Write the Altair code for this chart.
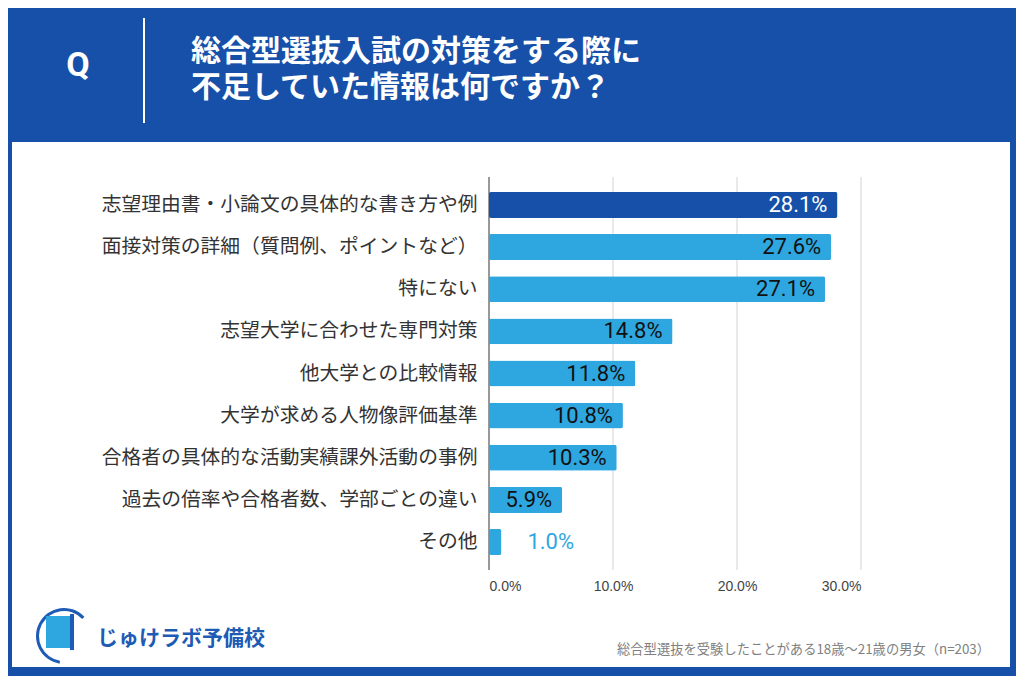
import altair as alt
import pandas as pd

# ---- data ----
categories = [
    "志望理由書・小論文の具体的な書き方や例",
    "面接対策の詳細（質問例、ポイントなど）",
    "特にない",
    "志望大学に合わせた専門対策",
    "他大学との比較情報",
    "大学が求める人物像評価基準",
    "合格者の具体的な活動実績課外活動の事例",
    "過去の倍率や合格者数、学部ごとの違い",
    "その他",
]
values = [28.1, 27.6, 27.1, 14.8, 11.8, 10.8, 10.3, 5.9, 1.0]
tick_values = [0, 10, 20, 30]

title_lines = ["総合型選抜入試の対策をする際に", "不足していた情報は何ですか？"]
q_label = "Q"
logo_text = "じゅけラボ予備校"
footnote = "総合型選抜を受験したことがある18歳～21歳の男女（n=203）"

BLUE = "#1650A8"
LIGHT = "#2EA7E0"
JP = "Noto Sans CJK JP"

df = pd.DataFrame({"category": categories, "value": values})
grid_df = pd.DataFrame({"g": tick_values})

W, H = 1008, 668

xscale = alt.Scale(domain=[0, 30], range=[481, 853])
xaxis = alt.Axis(
    orient="bottom", offset=-106, values=tick_values, domain=False, ticks=False,
    grid=False, labelPadding=9, labelFontSize=14, labelColor="#444",
    labelFont="Liberation Sans", labelFontWeight="normal",
    labelExpr="format(datum.value, '.1f') + '%'", title=None, zindex=2,
)
yscale = alt.Scale(domain=categories, range=[169, 562], paddingInner=0.383, paddingOuter=0.356)
yaxis = alt.Axis(
    orient="left", offset=-481, domain=False, ticks=False, grid=False,
    labelPadding=12, labelFontSize=19.8, labelColor="#333", labelFont=JP,
    labelLimit=0, title=None, zindex=2,
)


def X(field):
    return alt.X(f"{field}:Q", scale=xscale, axis=xaxis)


def Y():
    return alt.Y("category:N", sort=categories, scale=yscale, axis=yaxis)


one = pd.DataFrame({"k": [0]})

panel = alt.Chart(one).mark_rect(color="white").encode(
    x=alt.value(4), x2=alt.value(1002), y=alt.value(134), y2=alt.value(659)
)
divider = alt.Chart(one).mark_rule(color="white", strokeWidth=2).encode(
    x=alt.value(136), y=alt.value(10), y2=alt.value(115)
)
q_text = alt.Chart(pd.DataFrame({"t": [q_label]})).mark_text(
    font="Roboto", fontSize=34, fontWeight="bold", color="white", align="center", baseline="middle"
).encode(text="t:N", x=alt.value(70), y=alt.value(58))
title = alt.Chart(one).mark_text(
    font=JP, fontSize=30, fontWeight="bold", color="white", align="left",
    baseline="middle", lineHeight=36,
).encode(text=alt.value(title_lines), x=alt.value(183), y=alt.value(44))

grid = alt.Chart(grid_df).mark_rule(strokeWidth=1).encode(
    x=X("g"), y=alt.value(169), y2=alt.value(562),
    color=alt.condition("datum.g == 0", alt.value("#333333"), alt.value("#d4d4d4")),
)

bars = alt.Chart(df).mark_bar(cornerRadius=2).encode(
    x=X("value"), y=Y(),
    color=alt.condition(f"datum.category == '{categories[0]}'", alt.value(BLUE), alt.value(LIGHT)),
)

base_txt = alt.Chart(df).transform_calculate(
    label="format(datum.value, '.1f') + '%'"
)
inside = base_txt.transform_filter("datum.value >= 3").mark_text(
    font="Roboto", fontSize=22, align="right", baseline="middle", dx=-10
).encode(
    x=X("value"), y=Y(), text="label:N",
    color=alt.condition(f"datum.category == '{categories[0]}'", alt.value("white"), alt.value("#111111")),
)
outside = base_txt.transform_filter("datum.value < 3").mark_text(
    font="Roboto", fontSize=22, align="left", baseline="middle", dx=26, color=LIGHT
).encode(x=X("value"), y=Y(), text="label:N")

# logo
logo_book = alt.Chart(one).mark_rect(color=LIGHT).encode(
    x=alt.value(38), x2=alt.value(62), y=alt.value(608), y2=alt.value(640)
)
logo_book2 = alt.Chart(one).mark_rect(color="#1E5BB5").encode(
    x=alt.value(62), x2=alt.value(66), y=alt.value(606), y2=alt.value(642)
)
logo_arc = alt.Chart(one).mark_arc(color="#1E5BB5").encode(
    theta=alt.value(3.3), theta2=alt.value(7.1),
    radius=alt.value(28), radius2=alt.value(25),
    x=alt.value(56), y=alt.value(628),
)
logo = alt.Chart(pd.DataFrame({"t": [logo_text]})).mark_text(
    font=JP, fontSize=21, fontWeight="bold", color="#1E5BB5", align="left", baseline="middle"
).encode(text="t:N", x=alt.value(89), y=alt.value(631))

note = alt.Chart(pd.DataFrame({"t": [footnote]})).mark_text(
    font=JP, fontSize=13.3, color="#808080", align="right", baseline="middle"
).encode(text="t:N", x=alt.value(982), y=alt.value(642))

chart = alt.layer(
    panel, divider, q_text, title, grid, bars, inside, outside,
    logo_arc, logo_book, logo_book2, logo, note,
).properties(
    width=W, height=H, autosize=alt.AutoSizeParams(type="none"), padding=0,
    background=BLUE,
).configure_view(strokeWidth=0)

chart.save("out.html", embed_options={"renderer": "svg", "actions": False})
